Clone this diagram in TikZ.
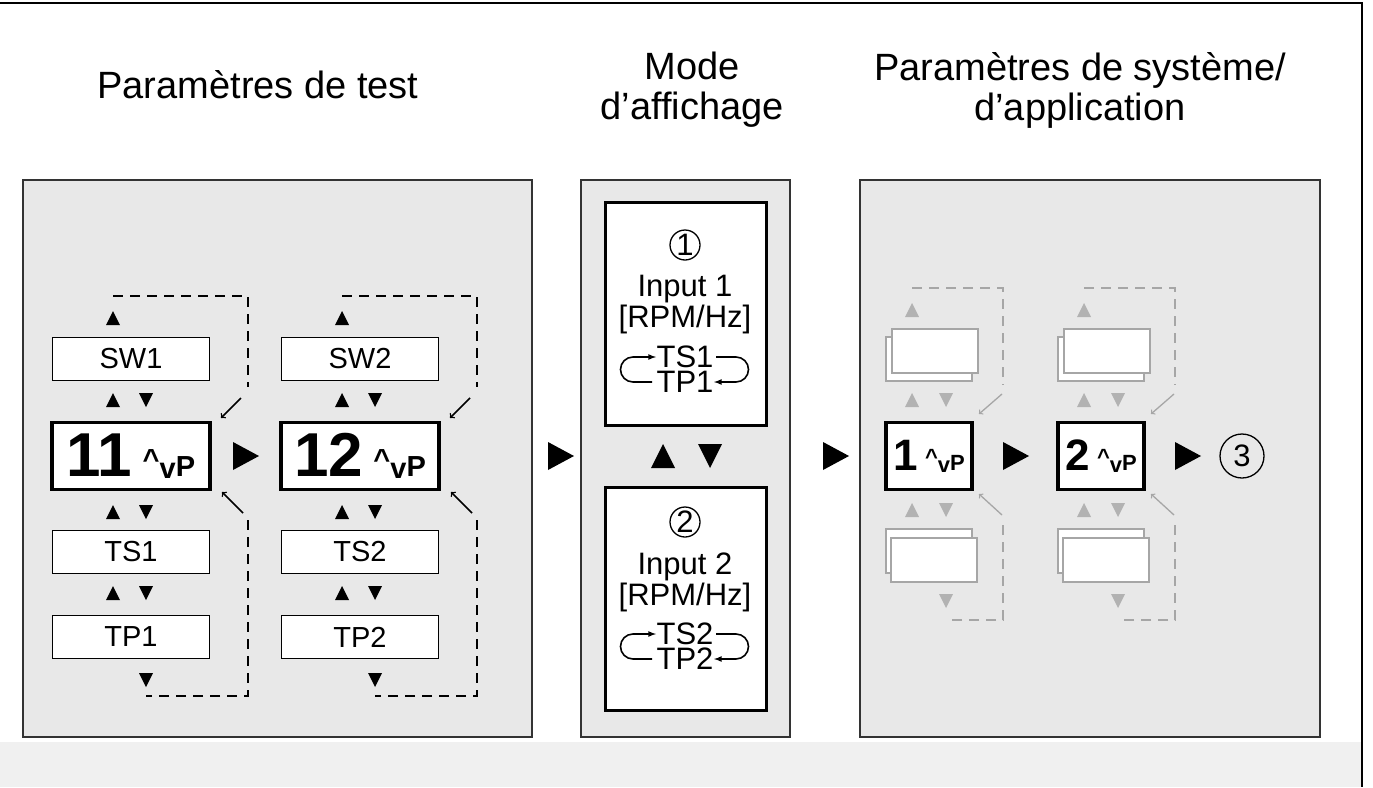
\documentclass[tikz,border=0pt]{standalone}
\usepackage{fontspec}
\setmainfont{Liberation Sans}
\begin{document}
\begin{tikzpicture}[x=1pt,y=-1pt,
  panel/.style={draw=black!80,line width=1.2pt,fill=black!9},
  sbox/.style={draw,line width=1.6pt,fill=white,minimum width=157pt,minimum height=43pt,inner sep=0pt,font=\fontsize{29}{29}\selectfont},
  mbox/.style={draw,line width=3.5pt,fill=white,minimum width=158pt,minimum height=67pt,inner sep=0pt},
  pbox/.style={draw,line width=3.5pt,fill=white,minimum width=86pt,minimum height=67pt,inner sep=0pt},
  ibox/.style={draw,line width=3.5pt,fill=white,minimum width=161pt,minimum height=223pt,inner sep=0pt},
  gbox/.style={draw=black!35,line width=1.3pt,fill=white,minimum width=86pt,minimum height=44pt,inner sep=0pt},
  dsh/.style={dashed,dash pattern=on 10pt off 7pt,line width=1.5pt},
  circ/.style={circle,draw,line width=1.3pt,inner sep=0pt,minimum size=30pt,font=\fontsize{31}{31}\selectfont},
  title/.style={align=center,font=\fontsize{38}{40}\selectfont}]
\useasboundingbox (0,0) rectangle (1373,787);
\fill[black!6] (0,742) rectangle (1362,787);
\draw[line width=2pt] (0,3) -- (1362,3) -- (1362,787);
\newcommand\tup[4]{\fill[#4] (#1-#3,#2+#3) -- (#1+#3,#2+#3) -- (#1,#2-#3) -- cycle;}
\newcommand\tdn[4]{\fill[#4] (#1-#3,#2-#3) -- (#1+#3,#2-#3) -- (#1,#2+#3) -- cycle;}
\newcommand\tri[2]{\fill (#1-13,#2-14) -- (#1+13,#2) -- (#1-13,#2+14) -- cycle;}
% titles
\node[title] (t1) at (258,85) {Paramètres de test};
\node[title] (t2) at (692,90) {Mode\\d'affichage};
\node[title] (t3) at (1080,90) {Paramètres de système/\\d'application};
% panels
\draw[panel] (23,180) rectangle (532,737);
\draw[panel] (581,180) rectangle (790,737);
\draw[panel] (860,180) rectangle (1320,737);
% panel 1 columns
\foreach \c/\n/\m in {131/1/11,360/2/12}{
  \node[sbox] (sw\n) at (\c,359) {SW\n};
  \node[sbox] (ts\n) at (\c,552) {TS\n};
  \node[sbox] (tp\n) at (\c,637) {TP\n};
  \node[mbox] (m\n) at (\c,456) {\fontsize{62}{62}\selectfont\bfseries \m\,\fontsize{29}{29}\selectfont\raisebox{7pt}{\^{}}\raisebox{-2pt}{v}P};
  \tup{\c-18}{318}{7}{black}
  \tup{\c-18}{400}{7}{black} \tdn{\c+15}{400}{7}{black}
  \tup{\c-18}{512}{7}{black} \tdn{\c+15}{512}{7}{black}
  \tup{\c-18}{593}{7}{black} \tdn{\c+15}{593}{7}{black}
  \tdn{\c+15}{680}{7}{black}
  \coordinate (a\n) at (\c-18,296);
  \coordinate (b\n) at (\c+117,296);
  \coordinate (c\n) at (\c+117,387);
  \coordinate (d\n) at (\c+117,520);
  \coordinate (e\n) at (\c+117,696);
  \coordinate (f\n) at (\c+15,696);
  \draw[dsh] (a\n) -- (b\n) -- (c\n);
  \draw[dsh] (d\n) -- (e\n) -- (f\n);
  \draw[line width=1.5pt,->] (\c+110,398) -- (\c+90,418);
  \draw[line width=1.5pt,->] (\c+112,513) -- (\c+91,492);
}
\tri{246}{456}
\tri{561}{456}
\tri{836}{456}
% panel 2
\node[ibox] (in1) at (686,314) {};
\node[ibox] (in2) at (686,599) {};
\tup{663}{456}{12}{black} \tdn{710}{456}{12}{black}
\foreach \n/\y in {1/0,2/277}{
  \node[circ] (k\n) at (685,245+\y) {\n};
  \node[font=\fontsize{31}{31}\selectfont,align=center] (l\n) at (685,305+\y) {Input \n\\{[}RPM/Hz{]}};
  \node[font=\fontsize{31}{31}\selectfont,inner sep=0pt] (s\n) at (685,357+\y) {TS\n};
  \node[font=\fontsize{31}{31}\selectfont,inner sep=0pt] (p\n) at (685,382+\y) {TP\n};
  \draw[line width=1.6pt,-latex] (652,382+\y) -- (633,382+\y) arc[start angle=90,end angle=270,radius=12.5] -- (656,357+\y);
  \draw[line width=1.6pt,-latex] (716,357+\y) -- (736,357+\y) arc[start angle=-90,end angle=90,radius=12.5] -- (714,382+\y);
}
% panel 3
\foreach \c/\n in {929/1,1101/2}{
  \node[gbox] (ub\n) at (\c,359) {};
  \node[gbox] (uf\n) at (\c+6,351) {};
  \node[gbox] (lb\n) at (\c,551) {};
  \node[gbox] (lf\n) at (\c+5,560) {};
  \node[pbox] (q\n) at (\c,456) {\fontsize{44}{44}\selectfont\bfseries \n\,\fontsize{22}{22}\selectfont\raisebox{6pt}{\^{}}\raisebox{-2pt}{v}P};
  \tup{\c-17}{310}{7}{black!30}
  \tup{\c-17}{400}{7}{black!30} \tdn{\c+17}{400}{7}{black!30}
  \tup{\c-17}{510}{7}{black!30} \tdn{\c+17}{510}{7}{black!30}
  \tdn{\c+17}{601}{7}{black!30}
  \coordinate (g\n) at (\c-17,288);
  \coordinate (h\n) at (\c+74,288);
  \coordinate (i\n) at (\c+74,385);
  \coordinate (j\n) at (\c+74,525);
  \coordinate (o\n) at (\c+74,620);
  \coordinate (r\n) at (\c+20,620);
  \draw[dsh,draw=black!35,line width=1.3pt] (g\n) -- (h\n) -- (i\n);
  \draw[dsh,draw=black!35,line width=1.3pt] (j\n) -- (o\n) -- (r\n);
  \draw[draw=black!35,line width=1.3pt,->] (\c+73,394) -- (\c+50,414);
  \draw[draw=black!35,line width=1.3pt,->] (\c+73,515) -- (\c+50,494);
}
\tri{1016}{456}
\tri{1188}{456}
\node[circ,minimum size=44pt] (k3) at (1242,456) {3};
\end{tikzpicture}
\end{document}
